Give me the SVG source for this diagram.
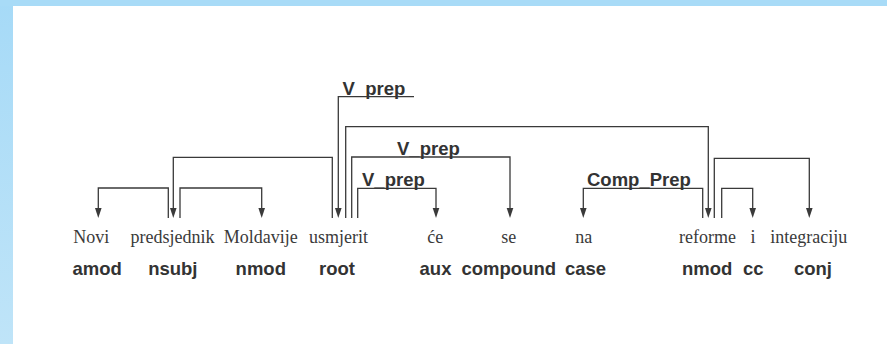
<svg xmlns="http://www.w3.org/2000/svg" width="887" height="344" viewBox="0 0 887 344">
<defs>
<linearGradient id="lg" x1="0" y1="0" x2="0" y2="1">
<stop offset="0" stop-color="#a6daf7"/>
<stop offset="1" stop-color="#bfe4f8"/>
</linearGradient>
<marker id="ah" markerUnits="userSpaceOnUse" markerWidth="8" markerHeight="10" refX="4" refY="10" orient="auto-start-reverse" viewBox="0 0 8 10">
<path d="M0.8 0 L7.2 0 L4 10 Z" fill="#3a3a3a"/>
</marker>
<style>
.w{font-family:"Liberation Serif","Times New Roman",serif;font-size:18px;fill:#3a3a3a;text-anchor:middle}
.l{font-family:"Liberation Sans",Arial,sans-serif;font-size:18.5px;font-weight:bold;fill:#333;text-anchor:middle}
.al{font-family:"Liberation Sans",Arial,sans-serif;font-size:18.5px;font-weight:bold;fill:#333}
.c{fill:none;stroke:#3a3a3a;stroke-width:1.3}
.a{marker-end:url(#ah)}
</style>
</defs>
<rect x="0" y="0" width="887" height="344" fill="#fff"/>
<rect x="0" y="0" width="13" height="344" fill="url(#lg)"/>
<rect x="0" y="0" width="887" height="6" fill="#a8dbf7"/>
<g id="connectors">
<path class="c" d="M168.3 218 V188 H98.3 V208"/>
<path class="c" d="M180 218 V188 H261.7 V208"/>
<path class="c" d="M332.3 218 V157.3 H173.3 V208"/>
<path class="c" d="M414 96.7 H338.3 V208"/>
<path class="c" d="M345.7 218 V126.7 H708.3 V208"/>
<path class="c" d="M351.7 218 V157 H510 V208"/>
<path class="c" d="M357.7 218 V188.3 H436 V208"/>
<path class="c" d="M702.7 218 V188.3 H583.3 V208"/>
<path class="c" d="M714.3 218 V158.3 H809.3 V208"/>
<path class="c" d="M721.7 218 V188.3 H752.7 V208"/>
<g fill="#3a3a3a">
<path d="M95 208 L101.6 208 L98.3 218 Z"/>
<path d="M258.4 208 L265 208 L261.7 218 Z"/>
<path d="M170 208 L176.6 208 L173.3 218 Z"/>
<path d="M335 208 L341.6 208 L338.3 218 Z"/>
<path d="M705 208 L711.6 208 L708.3 218 Z"/>
<path d="M506.7 208 L513.3 208 L510 218 Z"/>
<path d="M432.7 208 L439.3 208 L436 218 Z"/>
<path d="M580 208 L586.6 208 L583.3 218 Z"/>
<path d="M806 208 L812.6 208 L809.3 218 Z"/>
<path d="M749.4 208 L756 208 L752.7 218 Z"/>
</g>
<text class="al" x="342.5" y="94.5">V_prep</text>
<text class="al" x="397" y="155">V_prep</text>
<text class="al" x="362" y="186.3">V_prep</text>
<text class="al" x="587" y="186.3">Comp_Prep</text>
</g>
<g id="t1"><text class="w" x="91.3" y="243">Novi</text><text class="l" x="97.2" y="275">amod</text></g>
<g id="t2"><text class="w" x="172.5" y="243">predsjednik</text><text class="l" x="172.8" y="275">nsubj</text></g>
<g id="t3"><text class="w" x="260.8" y="243">Moldavije</text><text class="l" x="260.8" y="275">nmod</text></g>
<g id="t4"><text class="w" x="338.5" y="243">usmjerit</text><text class="l" x="337" y="275">root</text></g>
<g id="t5"><text class="w" x="435.3" y="243">će</text><text class="l" x="435.5" y="275">aux</text></g>
<g id="t6"><text class="w" x="508.8" y="243">se</text><text class="l" x="508.8" y="275">compound</text></g>
<g id="t7"><text class="w" x="583.8" y="243">na</text><text class="l" x="585.5" y="275">case</text></g>
<g id="t8"><text class="w" x="707.5" y="243">reforme</text><text class="l" x="707.2" y="275">nmod</text></g>
<g id="t9"><text class="w" x="753" y="243">i</text><text class="l" x="753.3" y="275">cc</text></g>
<g id="t10"><text class="w" x="808.8" y="243">integraciju</text><text class="l" x="813" y="275">conj</text></g>
</svg>
